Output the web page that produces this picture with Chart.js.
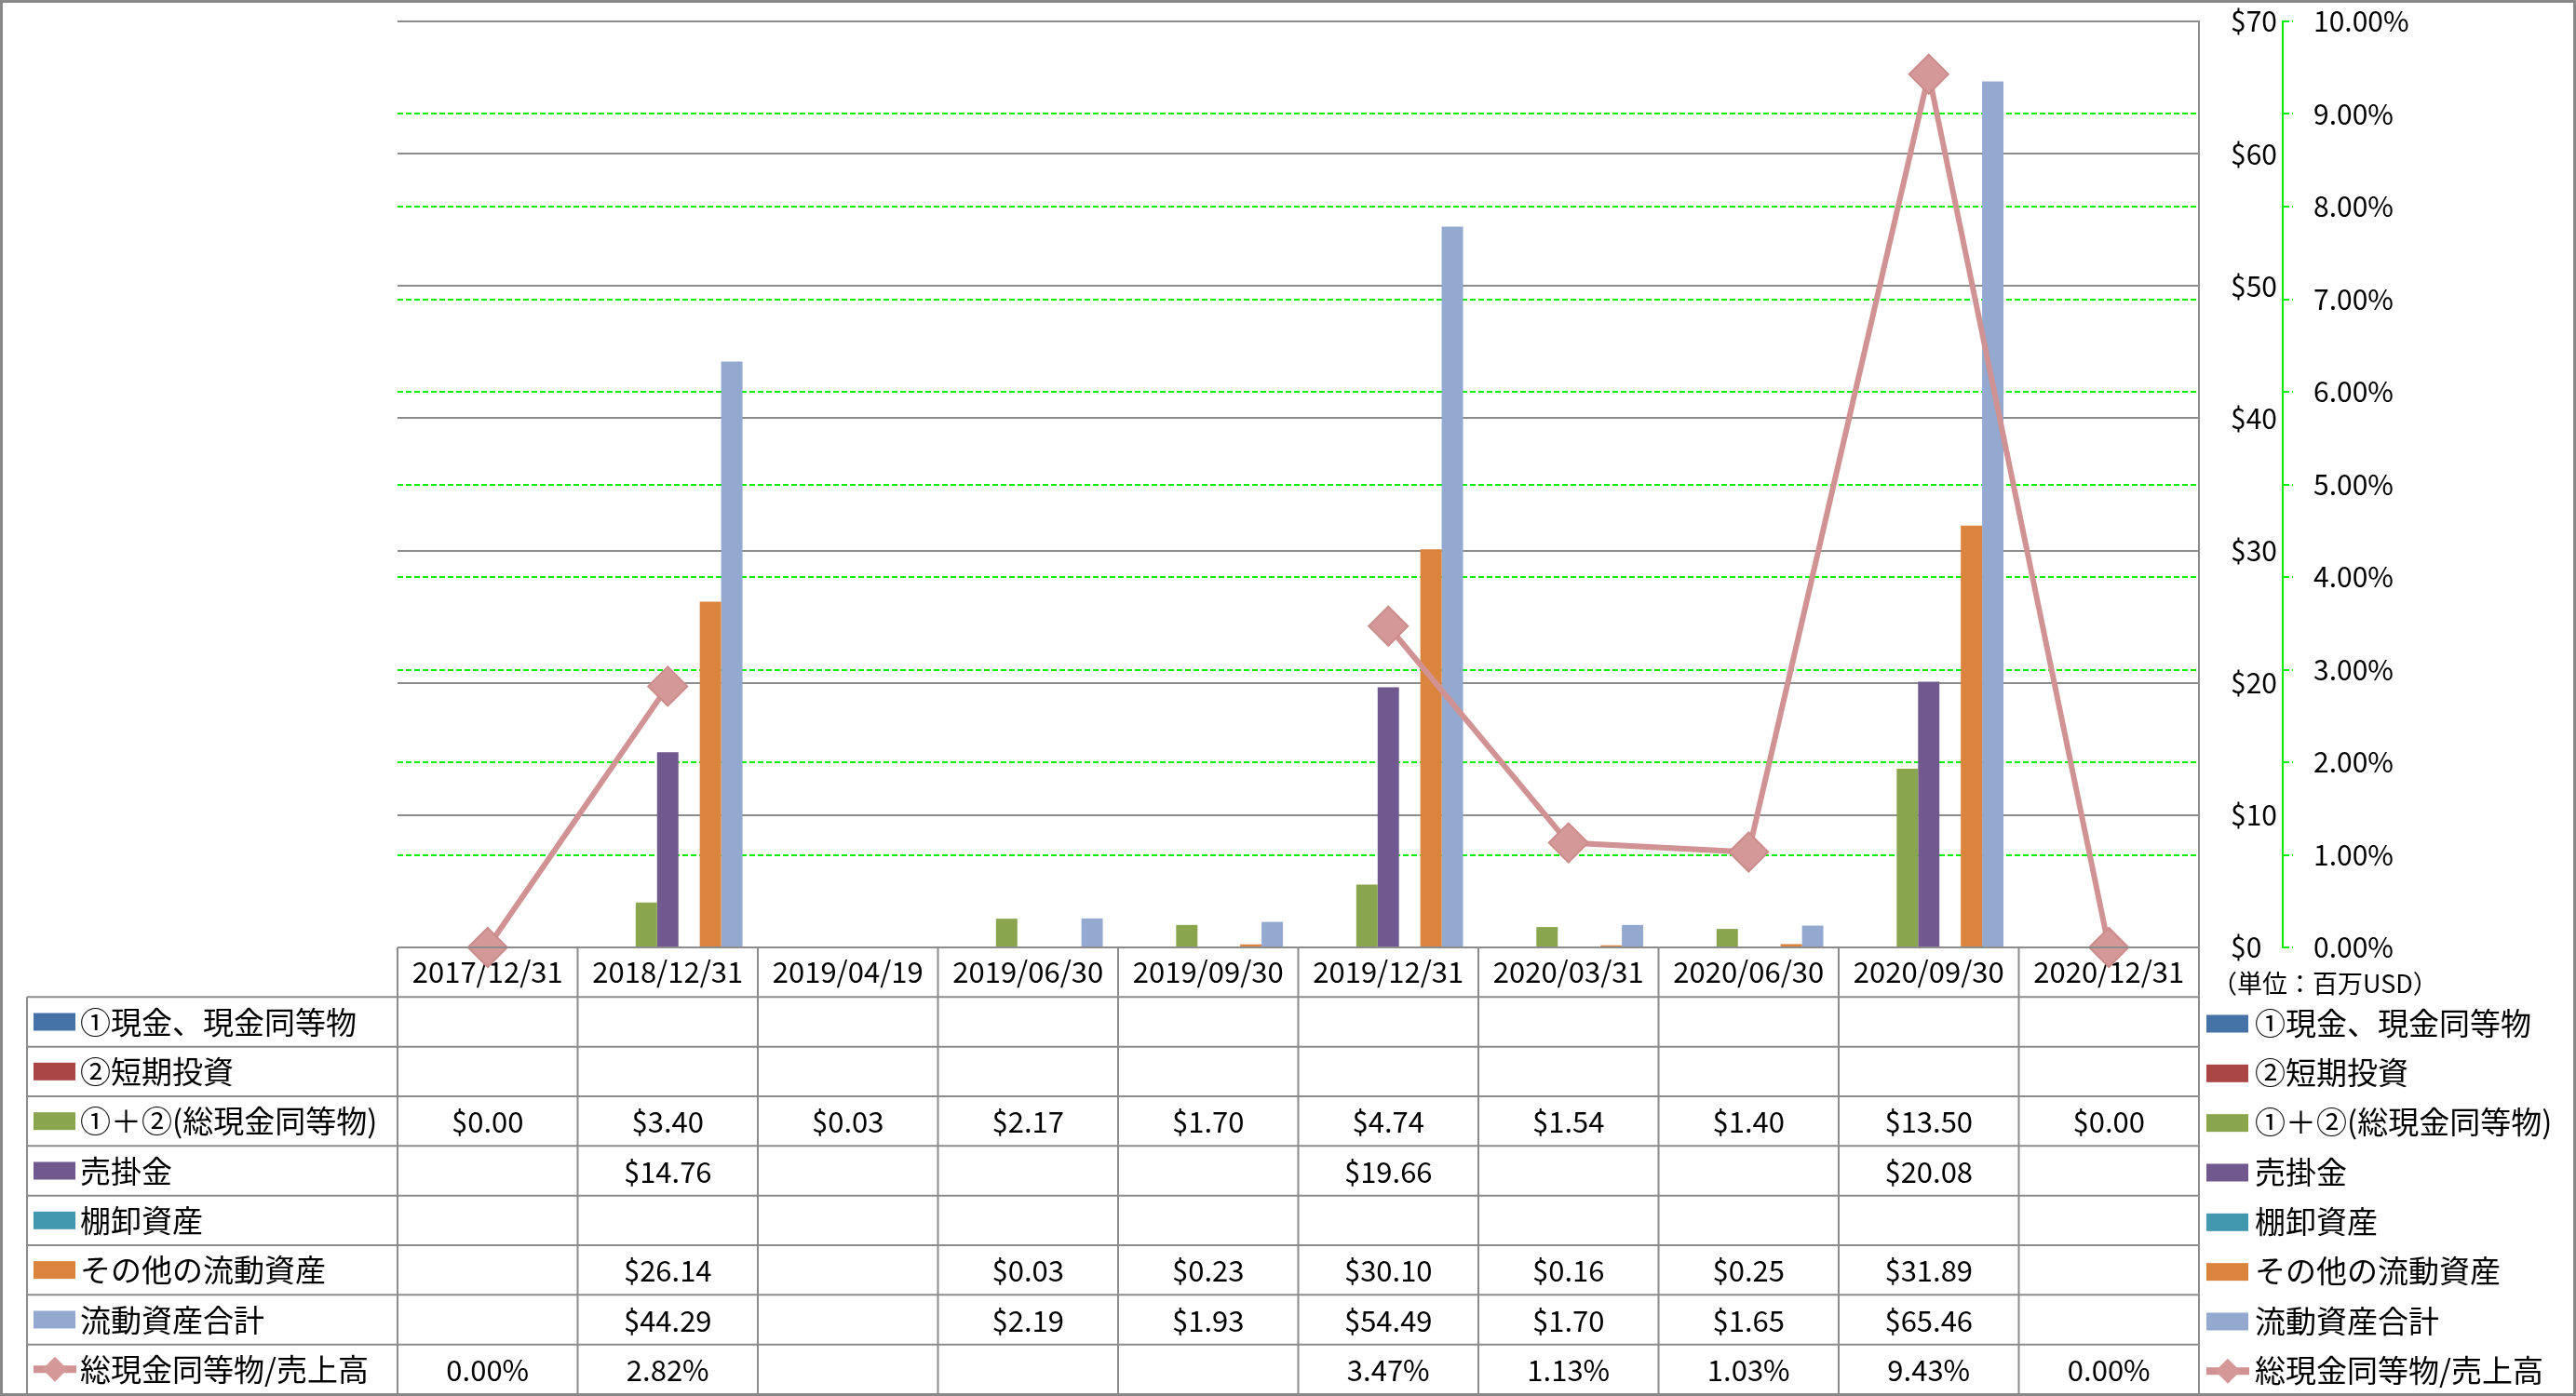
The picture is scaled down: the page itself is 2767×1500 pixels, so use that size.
<!DOCTYPE html>
<html>
<head>
<meta charset="utf-8">
<script src="https://cdn.jsdelivr.net/npm/chart.js@4"></script>
<style>
html,body{margin:0;padding:0;background:#fff;overflow:hidden}
canvas{display:block}
</style>
</head>
<body>
<canvas id="c" width="2767" height="1500"></canvas>
<script>
// ---------------- data ----------------
const categories = ['2017/12/31','2018/12/31','2019/04/19','2019/06/30','2019/09/30','2019/12/31','2020/03/31','2020/06/30','2020/09/30','2020/12/31'];
const seriesNames = ['①現金、現金同等物','②短期投資','①＋②(総現金同等物)','売掛金','棚卸資産','その他の流動資産','流動資産合計','総現金同等物/売上高'];
const cashEquivalents = [null,null,null,null,null,null,null,null,null,null];
const shortTermInvest = [null,null,null,null,null,null,null,null,null,null];
const totalCash       = [0.00,3.40,0.03,2.17,1.70,4.74,1.54,1.40,13.50,0.00];
const receivables     = [null,14.76,null,null,null,19.66,null,null,20.08,null];
const inventory       = [null,null,null,null,null,null,null,null,null,null];
const otherCurrent    = [null,26.14,null,0.03,0.23,30.10,0.16,0.25,31.89,null];
const totalCurrent    = [null,44.29,null,2.19,1.93,54.49,1.70,1.65,65.46,null];
const cashToSales     = [0.00,2.82,null,null,null,3.47,1.13,1.03,9.43,0.00];
const usdAxis = {min:0, max:70, step:10};
const pctAxis = {min:0, max:10, step:1};
const unitLabel = '（単位：百万USD）';

// ---------------- styles ----------------
const colors = ['#4572A7','#AA4643','#89A54E','#71588F','#4198AF','#DB843D','#93A9CF','rgb(208,146,146)'];
const FONT = "'Noto Sans CJK JP', 'Noto Sans', sans-serif";
const GRAY = '#8c8c8c';
const GREEN = '#00f000';
const ROW_H = 53.33;
const TABLE_LEFT = 29;

const barSeries = [cashEquivalents, shortTermInvest, totalCash, receivables, inventory, otherCurrent, totalCurrent];
const tableRows = barSeries.map((vals,i)=>({name:seriesNames[i], color:colors[i], values:vals, line:false,
  fmt:v=>'$'+v.toFixed(2)}));
tableRows.push({name:seriesNames[7], color:colors[7], values:cashToSales, line:true, fmt:v=>v.toFixed(2)+'%'});

function drawSymbol(ctx, row, x, cy){
  if (row.line){
    ctx.strokeStyle = row.color; ctx.lineWidth = 8; ctx.lineCap='butt';
    ctx.beginPath(); ctx.moveTo(x, cy); ctx.lineTo(x+46, cy); ctx.stroke();
    ctx.fillStyle = 'rgb(213,152,152)';
    const r = 13.5, mx = x+23;
    ctx.beginPath(); ctx.moveTo(mx-r,cy); ctx.lineTo(mx,cy-r); ctx.lineTo(mx+r,cy); ctx.lineTo(mx,cy+r); ctx.closePath(); ctx.fill();
  } else {
    ctx.fillStyle = row.color;
    ctx.fillRect(x, cy-9.5, 45, 19);
  }
}

const tablePlugin = {
  id:'tablePlugin',
  beforeDraw(chart){
    const ctx = chart.ctx;
    ctx.save(); ctx.fillStyle='#fff'; ctx.fillRect(0,0,chart.width,chart.height); ctx.restore();
  },
  afterDraw(chart){
    const ctx = chart.ctx, ca = chart.chartArea, xs = chart.scales.x;
    const n = categories.length, colW = (ca.right-ca.left)/n;
    const headTop = ca.bottom, bodyTop = headTop + ROW_H, bodyBottom = bodyTop + tableRows.length*ROW_H;
    ctx.save();
    ctx.strokeStyle = GRAY; ctx.lineWidth = 2;
    ctx.beginPath();
    ctx.moveTo(ca.left, ca.top); ctx.lineTo(ca.right, ca.top);
    ctx.moveTo(ca.left, headTop); ctx.lineTo(ca.right, headTop);
    for (let k=0;k<=tableRows.length;k++){ const y = bodyTop + k*ROW_H; ctx.moveTo(TABLE_LEFT,y); ctx.lineTo(ca.right,y); }
    ctx.moveTo(TABLE_LEFT, bodyTop); ctx.lineTo(TABLE_LEFT, bodyBottom);
    for (let i=0;i<=n;i++){ const x = ca.left + i*colW; ctx.moveTo(x, headTop); ctx.lineTo(x, bodyBottom); }
    ctx.stroke();

    tableRows.forEach((row,k)=>{
      const cy = bodyTop + (k+0.5)*ROW_H;
      drawSymbol(ctx, row, 36, cy);
      ctx.fillStyle='#000'; ctx.textBaseline='middle'; ctx.textAlign='left';
      ctx.font = '33px ' + FONT;
      ctx.fillText(row.name, 86, cy);
      ctx.font = '31px ' + FONT; ctx.textAlign='center';
      row.values.forEach((v,i)=>{
        if (v===null || v===undefined) return;
        ctx.fillText(row.fmt(v), xs.getPixelForValue(i), cy+1);
      });
      drawSymbol(ctx, row, 2370, cy+2);
      ctx.fillStyle='#000'; ctx.textAlign='left'; ctx.font = '33px ' + FONT;
      ctx.fillText(row.name, 2422, cy+1);
    });

    ctx.font = '27px ' + FONT; ctx.textAlign='left'; ctx.textBaseline='middle'; ctx.fillStyle='#000';
    ctx.fillText(unitLabel, 2376, 1057);

    ctx.strokeStyle = '#888'; ctx.lineWidth = 3;
    ctx.strokeRect(1.5,1.5,chart.width-3,chart.height-3);
    ctx.restore();
  }
};

function noPad(s){ s.paddingTop = 0; s.paddingBottom = 0; s.paddingLeft = 0; s.paddingRight = 0; }

const datasets = [];
datasets.push({
  type:'line', label:seriesNames[7], data:cashToSales, yAxisID:'y2', order:-1,
  borderColor:colors[7], borderWidth:6, tension:0, spanGaps:false, clip:false,
  pointStyle:'rectRot', pointRadius:21, pointHoverRadius:21,
  pointBackgroundColor:'rgb(213,152,152)', pointBorderColor:'rgb(205,140,140)', pointBorderWidth:2
});
barSeries.forEach((vals,i)=>{
  datasets.push({type:'bar', label:seriesNames[i], data:vals, yAxisID:'y',
    backgroundColor:colors[i], borderWidth:0, categoryPercentage:0.83, barPercentage:1.0});
});

new Chart(document.getElementById('c'), {
  data:{labels:categories, datasets:datasets},
  plugins:[tablePlugin],
  options:{
    responsive:false, animation:false, devicePixelRatio:1,
    layout:{padding:{left:427, top:21, right:0, bottom:1500-1018-ROW_H}},
    plugins:{legend:{display:false}, tooltip:{enabled:false}},
    scales:{
      x:{
        type:'category', position:'bottom',
        grid:{display:false, drawTicks:false}, border:{display:false},
        ticks:{autoSkip:false, maxRotation:0, minRotation:0, padding:8, color:'#000',
          font:{family:FONT, size:31, lineHeight:1.2}},
        afterFit(s){ s.height = ROW_H; noPad(s); }
      },
      y:{
        position:'right', weight:0, min:usdAxis.min, max:usdAxis.max,
        grid:{color:GRAY, lineWidth:2, drawTicks:false, z:-1},
        border:{display:true, color:GRAY, width:2},
        ticks:{stepSize:usdAxis.step, padding:34, color:'#000', font:{family:FONT, size:30},
          callback:v=>'$'+v},
        afterFit(s){ s.width = 90; noPad(s); }
      },
      y2:{
        position:'right', weight:1, min:pctAxis.min, max:pctAxis.max,
        grid:{color:GREEN, lineWidth:2, drawTicks:true, tickLength:11, tickColor:GREEN, tickWidth:2,
          tickBorderDash:[6,3], z:-2},
        border:{display:true, color:GREEN, width:2, dash:[6,3]},
        ticks:{stepSize:pctAxis.step, padding:22, color:'#000', font:{family:FONT, size:30},
          callback:v=>Number(v).toFixed(2)+'%'},
        afterFit(s){ s.width = 2767-2452; noPad(s); }
      }
    }
  }
});
</script>
</body>
</html>
